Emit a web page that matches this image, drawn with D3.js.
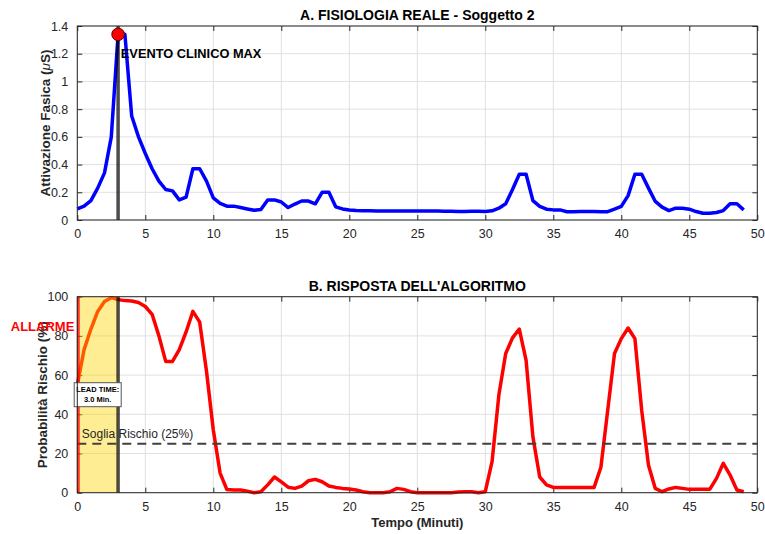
<!DOCTYPE html>
<html>
<head>
<meta charset="utf-8">
<script src="https://cdn.jsdelivr.net/npm/d3@7"></script>
<style>
  body { margin: 0; background: #fff; }
  svg { display: block; font-family: "Liberation Sans", Arial, Helvetica, sans-serif; }
</style>
</head>
<body>
<svg id="chart" width="765" height="534"></svg>
<script>
// tempo in minuti, passo di 0.5
const tempo = d3.range(0, 49.01, 0.5);

// A. attivazione fasica (uS)
const fasica = [
  0.08, 0.10, 0.14, 0.23, 0.34, 0.60, 1.34, 1.34, 0.75, 0.60,
  0.48, 0.37, 0.28, 0.22, 0.21, 0.145, 0.165, 0.37, 0.37, 0.28,
  0.16, 0.12, 0.10, 0.10, 0.09, 0.08, 0.07, 0.075, 0.145, 0.145,
  0.13, 0.09, 0.115, 0.137, 0.137, 0.117, 0.20, 0.20, 0.095, 0.08,
  0.072, 0.068, 0.066, 0.066, 0.065, 0.065, 0.065, 0.065, 0.065, 0.065,
  0.065, 0.065, 0.065, 0.065, 0.064, 0.063, 0.062, 0.062, 0.063, 0.063,
  0.062, 0.066, 0.085, 0.117, 0.22, 0.33, 0.33, 0.14, 0.098, 0.078,
  0.073, 0.073, 0.06, 0.06, 0.061, 0.061, 0.061, 0.059, 0.06, 0.078,
  0.098, 0.176, 0.33, 0.33, 0.23, 0.134, 0.093, 0.068, 0.085, 0.085,
  0.078, 0.061, 0.049, 0.049, 0.054, 0.068, 0.117, 0.117, 0.073, 0.059
];

// B. probabilita' di rischio (%)
const rischio = [
  55, 73, 83.5, 92.5, 97.5, 99.5, 98.5, 98, 97.8, 97,
  95, 91, 80, 67, 67, 73, 82, 92.5, 87, 62,
  32, 10, 1.6, 1.4, 1.4, 0.8, 0, 0.5, 4, 8,
  5.5, 2.8, 2.2, 3.4, 6.1, 6.8, 5.6, 3.4, 2.7, 2.2,
  1.9, 1.4, 0.5, 0, 0, 0, 0.5, 2.2, 1.7, 0.5,
  0, 0, 0, 0, 0, 0, 0.3, 0.5, 0.5, 0,
  0.5, 16, 50, 71, 79, 83.5, 67.5, 28.5, 8, 4,
  2.7, 2.7, 2.7, 2.7, 2.7, 2.7, 2.7, 13, 42, 71,
  78.6, 84, 78.6, 42, 14, 2.2, 0.5, 1.9, 2.7, 2.2,
  1.7, 1.7, 1.7, 1.7, 7.3, 15, 9, 1.4, 0.5
];

const xTicks = d3.range(0, 51, 5);
const yTicksA = [0, 0.2, 0.4, 0.6, 0.8, 1, 1.2, 1.4];
const yTicksB = [0, 20, 40, 60, 80, 100];

const tEvento = 3;        // evento clinico
const tAllarme = 0;       // primo allarme
const soglia = 25;

const svg = d3.select("#chart");
const left = 77.3, right = 757.3;
const boxA = { top: 26, bottom: 220 };
const boxB = { top: 296.7, bottom: 492.7 };
const txtCol = "#262626";

const x = d3.scaleLinear().domain([0, 50]).range([left, right]);
const yA = d3.scaleLinear().domain([0, 1.4]).range([boxA.bottom, boxA.top]);
const yB = d3.scaleLinear().domain([0, 100]).range([boxB.bottom, boxB.top]);

function drawFrame(y, ticks, box, fmt) {
  const g = svg.append("g");
  // griglia
  g.selectAll(".gx").data(xTicks).enter().append("line")
    .attr("x1", d => x(d)).attr("x2", d => x(d))
    .attr("y1", box.top).attr("y2", box.bottom)
    .attr("stroke", "#e0e0e0").attr("stroke-width", 1);
  g.selectAll(".gy").data(ticks).enter().append("line")
    .attr("x1", left).attr("x2", right)
    .attr("y1", d => y(d)).attr("y2", d => y(d))
    .attr("stroke", "#e0e0e0").attr("stroke-width", 1);

  const axes = svg.append("g").attr("class", "axes");
  axes.append("g").attr("transform", `translate(0,${box.bottom})`)
    .call(d3.axisBottom(x).tickValues(xTicks).tickSizeInner(-5).tickSizeOuter(0).tickPadding(9));
  axes.append("g").attr("transform", `translate(0,${box.top})`)
    .call(d3.axisTop(x).tickValues(xTicks).tickSizeInner(-5).tickSizeOuter(0).tickFormat(""));
  axes.append("g").attr("transform", `translate(${left},0)`)
    .call(d3.axisLeft(y).tickValues(ticks).tickSizeInner(-5).tickSizeOuter(0).tickPadding(9).tickFormat(fmt));
  axes.append("g").attr("transform", `translate(${right},0)`)
    .call(d3.axisRight(y).tickValues(ticks).tickSizeInner(-5).tickSizeOuter(0).tickFormat(""));
  axes.selectAll("path.domain").remove();
  axes.selectAll("line").attr("stroke", txtCol);
  axes.selectAll("text").attr("fill", txtCol).style("font-size", "12.5px")
    .style("font-family", "Liberation Sans, Arial, sans-serif");
  return axes;
}

function drawBorder(box) {
  svg.append("rect")
    .attr("x", left).attr("y", box.top)
    .attr("width", right - left).attr("height", box.bottom - box.top)
    .attr("fill", "none").attr("stroke", txtCol).attr("stroke-width", 1);
}

// ---------- pannello A ----------
drawFrame(yA, yTicksA, boxA, d => d3.format("~g")(d));

const lineA = d3.line().x((d, i) => x(tempo[i])).y(d => yA(d));
svg.append("path").datum(fasica)
  .attr("d", lineA).attr("fill", "none")
  .attr("stroke", "#0000ff").attr("stroke-width", 3.5)
  .attr("stroke-linejoin", "round");

svg.append("line")
  .attr("x1", x(tEvento)).attr("x2", x(tEvento))
  .attr("y1", yA(0)).attr("y2", yA(1.4))
  .attr("stroke", "#000").attr("stroke-opacity", 0.7).attr("stroke-width", 3.5);

const iMax = d3.maxIndex(fasica);
svg.append("circle")
  .attr("cx", x(tempo[iMax])).attr("cy", yA(fasica[iMax]))
  .attr("r", 6.3).attr("fill", "#ff0000").attr("stroke", "#600000").attr("stroke-width", 1);

svg.append("text")
  .attr("x", x(3.2)).attr("y", yA(1.2) + 4)
  .attr("font-size", "12.8px").attr("font-weight", "bold").attr("fill", "#000")
  .text("EVENTO CLINICO MAX");

drawBorder(boxA);

svg.append("text")
  .attr("x", (left + right) / 2).attr("y", 20)
  .attr("text-anchor", "middle").attr("font-size", "14px").attr("font-weight", "bold")
  .attr("fill", "#000").text("A. FISIOLOGIA REALE - Soggetto 2");

svg.append("text")
  .attr("transform", `translate(50,${(boxA.top + boxA.bottom) / 2}) rotate(-90)`)
  .attr("text-anchor", "middle").attr("font-size", "13.5px").attr("font-weight", "bold")
  .attr("fill", txtCol)
  .html("Attivazione Fasica (<tspan font-style='italic' font-weight='normal'>μ</tspan>S)");

// ---------- pannello B ----------
drawFrame(yB, yTicksB, boxB, d => d);

const lineB = d3.line().x((d, i) => x(tempo[i])).y(d => yB(d));
svg.append("path").datum(rischio)
  .attr("d", lineB).attr("fill", "none")
  .attr("stroke", "#ff0000").attr("stroke-width", 3.5)
  .attr("stroke-linejoin", "round");

// finestra di anticipo
svg.append("rect")
  .attr("x", x(tAllarme)).attr("y", yB(100))
  .attr("width", x(tEvento) - x(tAllarme)).attr("height", yB(0) - yB(100))
  .attr("fill", "#ffd400").attr("fill-opacity", 0.42);

svg.append("line")
  .attr("x1", x(0)).attr("x2", x(50))
  .attr("y1", yB(soglia)).attr("y2", yB(soglia))
  .attr("stroke", "#404040").attr("stroke-width", 2).attr("stroke-dasharray", "9,6");

svg.append("line")
  .attr("x1", x(tAllarme) + 1).attr("x2", x(tAllarme) + 1)
  .attr("y1", yB(0)).attr("y2", yB(100))
  .attr("stroke", "#ff0000").attr("stroke-opacity", 0.75).attr("stroke-width", 3);

svg.append("line")
  .attr("x1", x(tEvento)).attr("x2", x(tEvento))
  .attr("y1", yB(0)).attr("y2", yB(100))
  .attr("stroke", "#000").attr("stroke-opacity", 0.7).attr("stroke-width", 3.5);

svg.append("text")
  .attr("x", x(0.33)).attr("y", yB(28) + 0.5)
  .attr("font-size", "12px").attr("fill", "#262626")
  .text("Soglia Rischio (25%)");

// box lead time
const cx = x((tAllarme + tEvento) / 2), cy = yB(50);
svg.append("rect")
  .attr("x", cx - 23.5).attr("y", cy - 12).attr("width", 47).attr("height", 24)
  .attr("fill", "#fff").attr("stroke", "#555").attr("stroke-width", 1);
svg.append("text")
  .attr("x", cx).attr("y", cy - 2.5)
  .attr("text-anchor", "middle").attr("font-size", "7.5px").attr("font-weight", "bold")
  .attr("fill", "#000").text("LEAD TIME:");
svg.append("text")
  .attr("x", cx).attr("y", cy + 7)
  .attr("text-anchor", "middle").attr("font-size", "7.5px").attr("font-weight", "bold")
  .attr("fill", "#000").text((tEvento - tAllarme).toFixed(1) + " Min.");

drawBorder(boxB);

svg.append("text")
  .attr("x", (left + right) / 2).attr("y", 291)
  .attr("text-anchor", "middle").attr("font-size", "14px").attr("font-weight", "bold")
  .attr("fill", "#000").text("B. RISPOSTA DELL'ALGORITMO");

svg.append("text")
  .attr("transform", `translate(47,${(boxB.top + boxB.bottom) / 2}) rotate(-90)`)
  .attr("text-anchor", "middle").attr("font-size", "13.5px").attr("font-weight", "bold")
  .attr("fill", txtCol).text("Probabilità Rischio (%)");

svg.append("text")
  .attr("x", (left + right) / 2).attr("y", 527)
  .attr("text-anchor", "middle").attr("font-size", "13px").attr("font-weight", "bold")
  .attr("fill", txtCol).text("Tempo (Minuti)");

svg.append("text")
  .attr("x", x(0) - 3).attr("y", yB(85) + 5)
  .attr("text-anchor", "end").attr("font-size", "13px").attr("font-weight", "bold")
  .attr("fill", "#ff0000").text("ALLARME");
</script>
</body>
</html>
